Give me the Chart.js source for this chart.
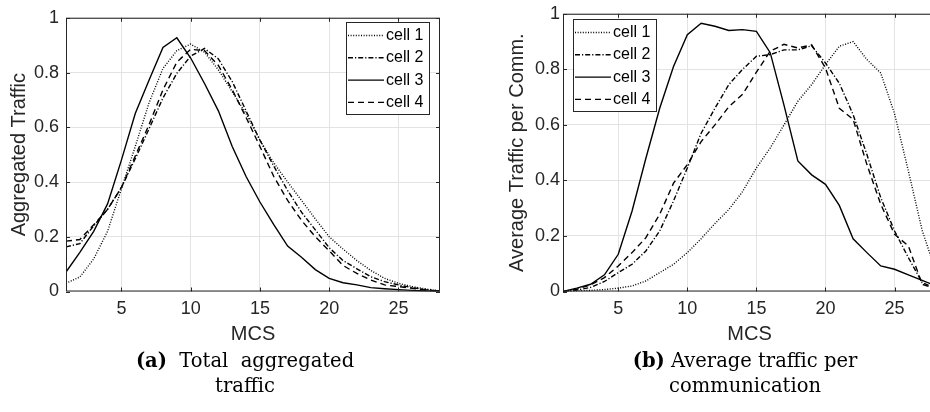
<!DOCTYPE html>
<html>
<head>
<meta charset="utf-8">
<script src="https://cdn.jsdelivr.net/npm/chart.js@4.4.1/dist/chart.umd.min.js"></script>
<style>
html, body { margin: 0; padding: 0; background: #fff; overflow: hidden; width: 930px; height: 412px; }
#wrapA { position: absolute; left: 0; top: 0; width: 450px; height: 350px; }
#wrapB { position: absolute; left: 498px; top: 0; width: 448px; height: 350px; }
.cap { position: absolute; top: 348px; width: 280px; font-family: "DejaVu Serif", "Liberation Serif", serif; font-size: 19.5px; line-height: 25px; text-align: center; color: #000; }
</style>
</head>
<body>
<div id="wrapA"><canvas id="chartA" width="450" height="350"></canvas></div>
<div id="wrapB"><canvas id="chartB" width="448" height="350"></canvas></div>
<div class="cap" style="left:105px"><b>(a)</b>&nbsp; Total &nbsp;aggregated<br>traffic</div>
<div class="cap" style="left:605px"><b>(b)</b> Average traffic per<br>communication</div>
<script>
// MCS index on the x axis
var mcs = [1,2,3,4,5,6,7,8,9,10,11,12,13,14,15,16,17,18,19,20,21,22,23,24,25,26,27,28];
var xTicks = [5,10,15,20,25];
var yTicks = [0,0.2,0.4,0.6,0.8,1];
var cellNames = ['cell 1','cell 2','cell 3','cell 4'];

// (a) total aggregated traffic
var aggCell1 = [0.03,0.053,0.119,0.22,0.375,0.53,0.69,0.815,0.88,0.904,0.874,0.81,0.73,0.65,0.553,0.47,0.4,0.333,0.265,0.2,0.155,0.113,0.077,0.048,0.03,0.018,0.009,0.002];
var aggCell2 = [0.163,0.175,0.24,0.3,0.38,0.485,0.595,0.707,0.797,0.86,0.888,0.85,0.767,0.66,0.553,0.458,0.369,0.29,0.225,0.16,0.113,0.083,0.054,0.036,0.024,0.014,0.007,0.002];
var aggCell3 = [0.071,0.143,0.22,0.32,0.48,0.65,0.773,0.892,0.927,0.853,0.76,0.66,0.53,0.42,0.327,0.244,0.166,0.125,0.08,0.048,0.032,0.024,0.014,0.01,0.007,0.004,0.002,0];
var aggCell4 = [0.184,0.19,0.244,0.3,0.38,0.495,0.61,0.737,0.838,0.885,0.88,0.826,0.737,0.636,0.53,0.42,0.333,0.26,0.2,0.149,0.095,0.066,0.042,0.024,0.018,0.012,0.005,0.001];

// (b) average traffic per communication
var avgCell1 = [0,0.002,0.004,0.007,0.012,0.02,0.038,0.068,0.098,0.14,0.19,0.245,0.295,0.36,0.445,0.517,0.6,0.685,0.745,0.817,0.883,0.9,0.835,0.787,0.64,0.434,0.22,0.07];
var avgCell2 = [0,0.005,0.015,0.036,0.068,0.098,0.146,0.218,0.326,0.445,0.57,0.66,0.745,0.8,0.847,0.853,0.87,0.87,0.885,0.823,0.75,0.637,0.493,0.338,0.218,0.122,0.032,0.01];
var avgCell3 = [0,0.012,0.026,0.06,0.134,0.29,0.48,0.66,0.81,0.925,0.966,0.955,0.94,0.943,0.937,0.86,0.67,0.47,0.42,0.386,0.31,0.19,0.14,0.092,0.08,0.06,0.04,0.02];
var avgCell4 = [0,0.008,0.024,0.05,0.092,0.14,0.194,0.278,0.39,0.457,0.54,0.6,0.665,0.71,0.79,0.865,0.89,0.877,0.888,0.805,0.66,0.62,0.457,0.314,0.206,0.164,0.026,0.01];

var dashes = [[1,1.6],[5,2,1.2,2],[],[6,4]];
var axisColor = '#262626';

Chart.defaults.font.family = '"Liberation Sans", Arial, sans-serif';
Chart.defaults.color = axisColor;

// matlab style box, inward ticks and legend inside the axes
var matlabBox = {
  id: 'matlabBox',
  afterDraw: function(chart, args, opts) {
    var ctx = chart.ctx, a = chart.chartArea;
    var xs = chart.scales.x, ys = chart.scales.y;
    ctx.save();
    ctx.strokeStyle = axisColor;
    ctx.lineWidth = 1;
    ctx.strokeRect(a.left + 0.5, a.top + 0.5, a.right - a.left - 1, a.bottom - a.top - 1);
    ctx.beginPath();
    xTicks.forEach(function(v) {
      var px = Math.round(xs.getPixelForValue(v)) + 0.5;
      ctx.moveTo(px, a.bottom); ctx.lineTo(px, a.bottom - 4);
      ctx.moveTo(px, a.top); ctx.lineTo(px, a.top + 4);
    });
    yTicks.forEach(function(v) {
      var py = Math.round(ys.getPixelForValue(v)) + 0.5;
      ctx.moveTo(a.left, py); ctx.lineTo(a.left + 4, py);
      ctx.moveTo(a.right, py); ctx.lineTo(a.right - 4, py);
    });
    ctx.stroke();

    // legend
    var bx = opts.x, by = opts.y, bw = 83, bh = 92;
    ctx.fillStyle = '#fff';
    ctx.fillRect(bx, by, bw, bh);
    ctx.strokeRect(bx + 0.5, by + 0.5, bw, bh);
    ctx.font = '16px "Liberation Sans", Arial, sans-serif';
    ctx.textBaseline = 'middle';
    chart.data.datasets.forEach(function(ds, i) {
      var cy = by + 13.5 + i * 22.3;
      ctx.strokeStyle = '#000';
      ctx.lineWidth = 1.4;
      ctx.setLineDash(ds.borderDash);
      ctx.beginPath();
      ctx.moveTo(bx + 2, cy); ctx.lineTo(bx + 38, cy);
      ctx.stroke();
      ctx.setLineDash([]);
      ctx.fillStyle = '#000';
      ctx.fillText(ds.label, bx + 40, cy);
    });
    ctx.restore();
  }
};

function makeChart(id, yTitle, series, axisW, yPad, legendXY) {
  var datasets = series.map(function(vals, i) {
    return {
      label: cellNames[i],
      data: mcs.map(function(m, j) { return { x: m, y: vals[j] }; }),
      borderColor: '#000',
      borderWidth: 1.4,
      borderDash: dashes[i],
      pointRadius: 0,
      tension: 0,
      fill: false
    };
  });
  return new Chart(document.getElementById(id), {
    type: 'line',
    data: { datasets: datasets },
    options: {
      responsive: false,
      animation: false,
      layout: { padding: { top: 12, right: 10, left: 0, bottom: 0 } },
      plugins: {
        legend: { display: false },
        tooltip: { enabled: false },
        matlabBox: legendXY
      },
      scales: {
        x: {
          type: 'linear', min: 1, max: 28,
          afterBuildTicks: function(s) { s.ticks = xTicks.map(function(v) { return { value: v }; }); },
          afterFit: function(s) { s.height = 58.5; },
          grid: { color: '#e3e3e3', drawTicks: false },
          border: { display: false },
          ticks: { font: { size: 18 }, padding: 7, maxRotation: 0, callback: function(v) { return String(v); } },
          title: { display: true, text: 'MCS', font: { size: 20 }, padding: { top: 0, bottom: 4 } }
        },
        y: {
          min: 0, max: 1,
          afterBuildTicks: function(s) { s.ticks = yTicks.map(function(v) { return { value: v }; }); },
          afterFit: function(s) { s.width = axisW; },
          grid: { color: '#e3e3e3', drawTicks: false },
          border: { display: false },
          ticks: { font: { size: 18 }, padding: yPad, callback: function(v) { return String(v); } },
          title: { display: true, text: yTitle, font: { size: 20 }, padding: { top: 7, bottom: 0 } }
        }
      }
    },
    plugins: [matlabBox]
  });
}

makeChart('chartA', 'Aggregated Traffic', [aggCell1, aggCell2, aggCell3, aggCell4], 66, 7, { x: 346, y: 22 });
makeChart('chartB', 'Average Traffic per Comm.', [avgCell1, avgCell2, avgCell3, avgCell4], 65, 3, { x: 75, y: 19 });
</script>
</body>
</html>
